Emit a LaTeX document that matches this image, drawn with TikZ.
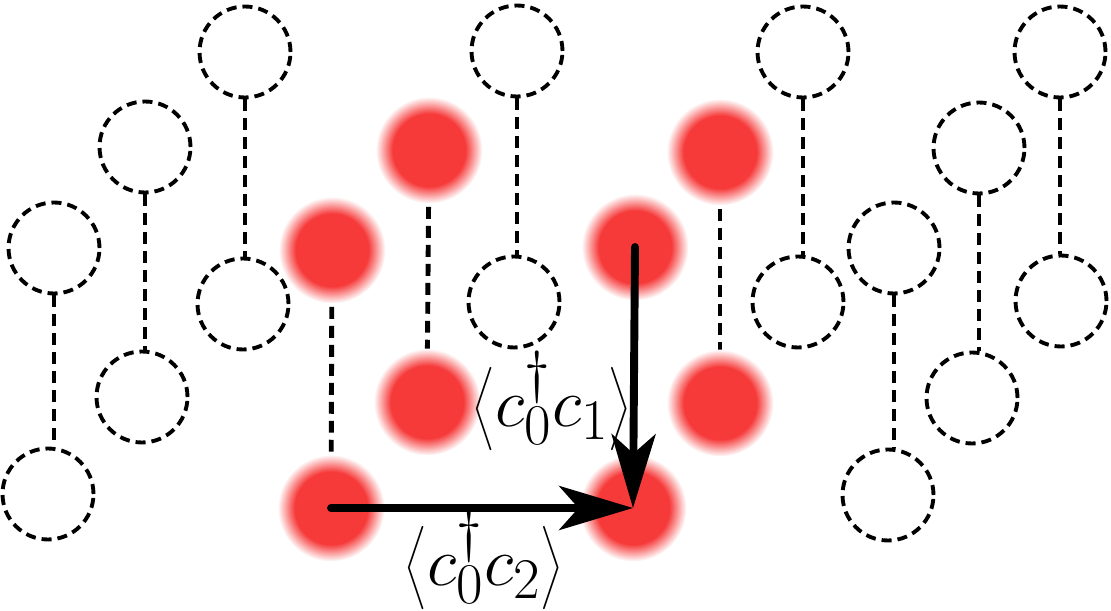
\documentclass[tikz,border=0pt]{standalone}
\usepackage{graphicx}
\usetikzlibrary{arrows.meta}
\definecolor{sitered}{RGB}{246,58,58}
\pgfdeclareradialshading{redblur}{\pgfpoint{0bp}{0bp}}{%
  color(0bp)=(sitered); color(17bp)=(sitered);
  color(25bp)=(white); color(50bp)=(white)}
\tikzset{
  site/.style={
    draw, circle, inner sep=0pt, minimum size=1.82cm,
    line width=2.2pt, dash pattern=on 5.7pt off 3.4pt,
  },
  filled/.style={
    circle, inner sep=0pt, minimum size=2.14cm, shade, shading=redblur,
  },
  bond/.style={line width=2.8pt, dash pattern=on 6.8pt off 4pt},
  hop/.style={
    line width=4.5pt, line cap=round,
    -{Stealth[length=42pt, width=25pt, inset=11pt]},
  },
  corr/.style={font=\fontsize{29}{35}\selectfont, inner sep=0pt},
}
\newcommand{\bigcorr}[1]{\scalebox{1.58}{$\left\langle #1\right\rangle$}}

\begin{document}
\begin{tikzpicture}[x=0.02cm, y=-0.02cm]
\useasboundingbox (0,0) rectangle (1111,611);

% ---- occupied sites (drawn first, bonds fade into them) --------------------
\coordinate (r4t) at (332,250);
\coordinate (r4b) at (331,508);
\coordinate (r5t) at (429,150);
\coordinate (r5b) at (427,402);
\coordinate (r8t) at (720,152);
\coordinate (r8b) at (720,403);
\draw[bond] (r4t) -- (r4b);
\draw[bond] (r5t) -- (r5b);
\draw[bond] (r8t) -- (r8b);

\node[filled] (o4t) at (r4t) {};
\node[filled] (o4b) at (r4b) {};
\node[filled] (o5t) at (r5t) {};
\node[filled] (o5b) at (r5b) {};
\node[filled] (o7t) at (635,247) {};
\node[filled] (o7b) at (633,508) {};
\node[filled] (o8t) at (r8t) {};
\node[filled] (o8b) at (r8b) {};

% ---- empty dimers ----------------------------------------------------------
\node[site] (e1t)  at (54,248)   {};
\node[site] (e1b)  at (48,494)   {};
\node[site] (e2t)  at (145,147)  {};
\node[site] (e2b)  at (142,397)  {};
\node[site] (e3t)  at (245,52)   {};
\node[site] (e3b)  at (243,304)  {};
\node[site] (e6t)  at (517,51)   {};
\node[site] (e6b)  at (514,302)  {};
\node[site] (e9t)  at (803,52)   {};
\node[site] (e9b)  at (798,302)  {};
\node[site] (e10t) at (894,248)  {};
\node[site] (e10b) at (888,495)  {};
\node[site] (e11t) at (979,148)  {};
\node[site] (e11b) at (972,398)  {};
\node[site] (e12t) at (1060,52)  {};
\node[site] (e12b) at (1061,301) {};

\draw[bond] (e1t.south)  -- (e1t.south  |- e1b.north);
\draw[bond] (e2t.south)  -- (e2t.south  |- e2b.north);
\draw[bond] (e3t.south)  -- (e3t.south  |- e3b.north);
\draw[bond] (e6t.south)  -- (e6t.south  |- e6b.north);
\draw[bond] (e9t.south)  -- (e9t.south  |- e9b.north);
\draw[bond] (e10t.south) -- (e10t.south |- e10b.north);
\draw[bond] (e11t.south) -- (e11t.south |- e11b.north);
\draw[bond] (e12t.south) -- (e12t.south |- e12b.north);

% ---- correlators -----------------------------------------------------------
\draw[hop] (o7t.center) -- (o7b.center);
\draw[hop] (o4b.center) -- (o7b.center);

\node[corr] (near) at (552,401) {\bigcorr{c_0^\dagger c_1}};
\node[corr] (far)  at (484,560) {\bigcorr{c_0^\dagger c_2}};

\end{tikzpicture}
\end{document}
